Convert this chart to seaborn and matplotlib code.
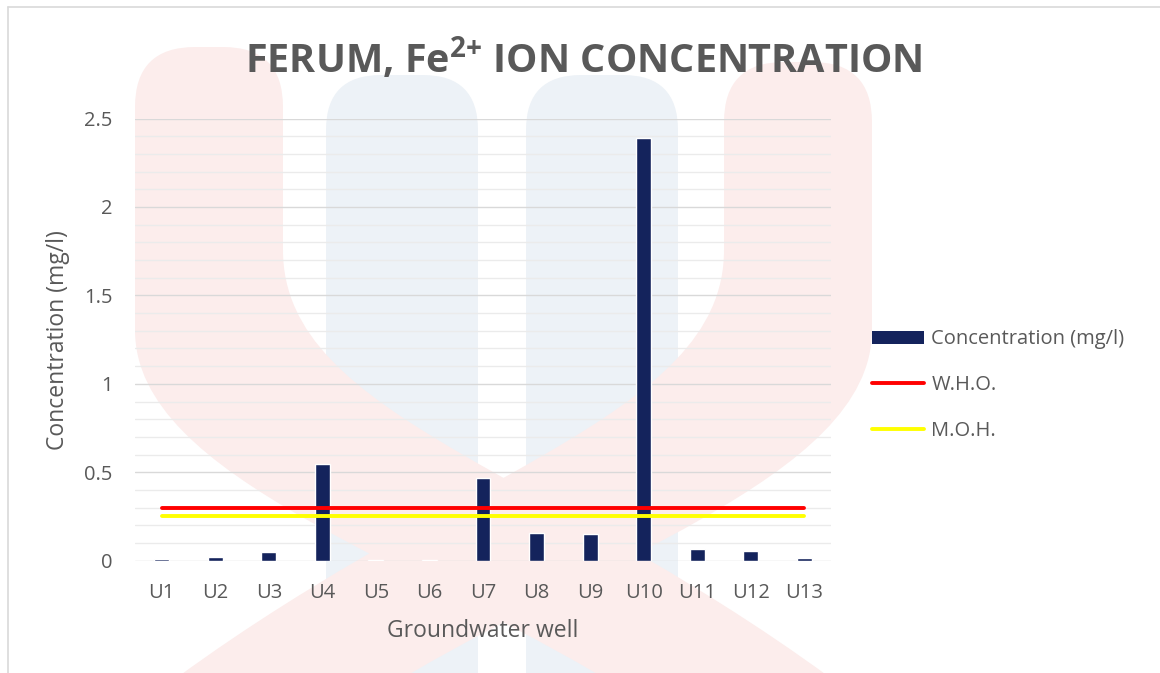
import numpy as np
import pandas as pd
import matplotlib
matplotlib.use("Agg")
import matplotlib.pyplot as plt
import seaborn as sns
from matplotlib.path import Path
from matplotlib.patches import PathPatch, Patch
from matplotlib.lines import Line2D

# ---- data -------------------------------------------------------------
wells = ["U1", "U2", "U3", "U4", "U5", "U6", "U7",
         "U8", "U9", "U10", "U11", "U12", "U13"]
fe_conc = [0.010, 0.021, 0.051, 0.545, 0.003, 0.003, 0.470,
           0.157, 0.149, 2.389, 0.066, 0.055, 0.013]
who_limit = [0.30] * 13
moh_limit = [0.25] * 13
y_ticks = [0, 0.5, 1, 1.5, 2, 2.5]
y_tick_labels = ["0", "0.5", "1", "1.5", "2", "2.5"]
series_names = ["Concentration (mg/l)", "W.H.O.", "M.O.H."]

# ---- style ------------------------------------------------------------
W, H = 1160, 673
BAR = "#14235c"
TXT = "#595959"

sns.set_theme(style="white")
plt.rcParams["font.family"] = ["Open Sans", "DejaVu Sans"]
plt.rcParams["mathtext.fontset"] = "custom"
plt.rcParams["mathtext.rm"] = "Open Sans:bold"
plt.rcParams["mathtext.bf"] = "Open Sans:bold"

fig = plt.figure(figsize=(W / 100, H / 100), dpi=100, facecolor="white")

# ---- faint background emblem -------------------------------------------
bg = fig.add_axes([0, 0, 1, 1], zorder=-10)
bg.set_xlim(0, W)
bg.set_ylim(H, 0)
bg.axis("off")

M, L, C3, C4, CL = Path.MOVETO, Path.LINETO, Path.CURVE3, Path.CURVE4, Path.CLOSEPOLY


def pillar(x0, x1, top, bottom, r):
    verts = [(x0, bottom), (x0, top + r), (x0, top), (x0 + r, top),
             (x1 - r, top), (x1, top), (x1, top + r), (x1, bottom), (x0, bottom)]
    codes = [M, L, C3, C3, L, C3, C3, L, CL]
    return Path(verts, codes)


def stroke(top, mirror=None):
    verts = [(135, 330), (135, top + 60), (135, top), (195, top),
             (223, top), (283, top), (283, top + 60),
             (283, 250),
             (283, 420), (560, 470), (860, 700),
             (860, 760), (640, 760), (640, 700),
             (420, 560), (135, 480), (135, 330),
             (135, 330)]
    codes = [M, L, C3, C3, L, C3, C3, L, C4, C4, C4, L, L, L, C4, C4, C4, CL]
    if mirror is not None:
        verts = [(mirror - x, y) for x, y in verts]
    return Path(verts, codes)


blue = "#edf2f7"
red = "#fcedec"
for x0, x1 in [(326, 478), (526, 678)]:
    bg.add_patch(PathPatch(pillar(x0, x1, 75, 700, 55), fc=blue, ec="none"))
bg.add_patch(PathPatch(stroke(47), fc=red, ec="none"))
bg.add_patch(PathPatch(stroke(62, mirror=1007), fc=red, ec="none"))

# chart frame (top and left edges fall inside the canvas)
bg.add_line(Line2D([8, W + 5], [7, 7], color="#d9d9d9", lw=1.2))
bg.add_line(Line2D([8, 8], [7, H + 5], color="#d9d9d9", lw=1.2))

# ---- plot area ---------------------------------------------------------
x_left, x_right = 135, 831
y_top, y_bot = 118.5, 560.7
ax = fig.add_axes([x_left / W, 1 - y_bot / H, (x_right - x_left) / W, (y_bot - y_top) / H])
ax.set_facecolor("none")

df = pd.DataFrame({"well": wells, "conc": fe_conc})
sns.barplot(data=df, x="well", y="conc", color=BAR, saturation=1,
            width=0.28, ax=ax, zorder=3)

pos = np.arange(len(wells))
sns.lineplot(x=pos, y=who_limit, color="#ff0000", lw=2.8, sort=False,
             solid_capstyle="round", ax=ax, zorder=4)
sns.lineplot(x=pos, y=moh_limit, color="#ffff00", lw=2.8, sort=False,
             solid_capstyle="round", ax=ax, zorder=4)

ax.set_xlim(-0.5, len(wells) - 0.5)
ax.set_ylim(0, 2.5)
ax.set_yticks(y_ticks)
ax.set_yticklabels(y_tick_labels)
ax.set_yticks(np.arange(0, 2.5001, 0.1), minor=True)
ax.grid(False)
ax.grid(axis="y", which="minor", color="#ebebeb", lw=1.0, zorder=0)
ax.grid(axis="y", which="major", color="#d9d9d9", lw=1.0, zorder=1)
for s in ax.spines.values():
    s.set_visible(False)
ax.tick_params(axis="y", which="both", length=0, pad=16, labelsize=14.5, labelcolor=TXT)
ax.tick_params(axis="x", length=0, pad=16, labelsize=14.5, labelcolor=TXT)

ax.set_xlabel("Groundwater well", fontsize=16.5, color=TXT)
ax.set_ylabel("Concentration (mg/l)", fontsize=16.5, color=TXT)
ax.xaxis.set_label_coords(0.5, (y_bot - 631) / (y_bot - y_top))
ax.xaxis.label.set_va("center")
ax.yaxis.set_label_coords((58 - x_left) / (x_right - x_left), 0.5)
ax.yaxis.label.set_va("center")

# ---- title ---------------------------------------------------------------
fig.text(584 / W, 1 - 73 / H, r"FERUM, Fe$^{\mathrm{2{+}}}$ ION CONCENTRATION",
         ha="center", va="baseline", fontsize=28.5, fontweight="bold", color=TXT)

# ---- legend --------------------------------------------------------------
handles = [Patch(facecolor=BAR, edgecolor="none"),
           Line2D([], [], color="#ff0000", lw=2.8, solid_capstyle="round"),
           Line2D([], [], color="#ffff00", lw=2.8, solid_capstyle="round")]
leg = fig.legend(handles, series_names, loc="center left",
                 bbox_to_anchor=(872 / W, 1 - 385 / H), frameon=False,
                 fontsize=14.5, handlelength=2.6, handleheight=0.62,
                 handletextpad=0.35, labelspacing=1.27, borderpad=0,
                 borderaxespad=0)
for t in leg.get_texts():
    t.set_color(TXT)

fig.savefig("out.png", dpi=100, facecolor="white")
